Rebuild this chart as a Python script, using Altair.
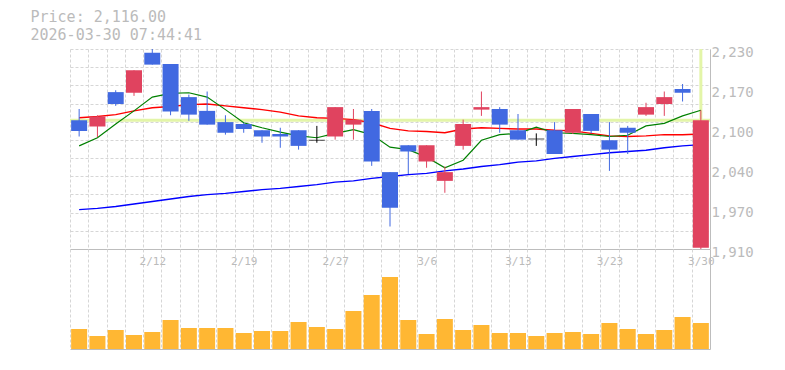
import altair as alt
import pandas as pd
import json

# ---------------- data ----------------
dates = ["2/5", "2/6", "2/9", "2/10", "2/12", "2/13", "2/16", "2/17", "2/18", "2/19",
         "2/20", "2/24", "2/25", "2/26", "2/27", "3/2", "3/3", "3/4", "3/5", "3/6",
         "3/9", "3/10", "3/11", "3/12", "3/13", "3/16", "3/17", "3/18", "3/19", "3/23",
         "3/24", "3/25", "3/26", "3/27", "3/30"]
opens = [2116, 2106, 2161, 2160, 2224, 2206, 2153, 2131, 2113, 2110,
         2100, 2094, 2100, 2084, 2090, 2109, 2131, 2033, 2076, 2050,
         2019, 2075, 2133, 2134, 2100, 2086, 2100, 2096, 2126, 2084,
         2104, 2125, 2142, 2166, 1912]
highs = [2134, 2124, 2164, 2196, 2230, 2206, 2157, 2162, 2124, 2112,
         2100, 2104, 2100, 2107, 2137, 2134, 2134, 2033, 2076, 2076,
         2042, 2117, 2162, 2137, 2126, 2095, 2113, 2134, 2126, 2113,
         2107, 2144, 2162, 2174, 2132]
lows = [2090, 2089, 2139, 2155, 2205, 2124, 2115, 2109, 2093, 2096,
        2080, 2072, 2069, 2080, 2085, 2085, 2043, 1946, 2030, 2040,
        2000, 2069, 2123, 2096, 2085, 2075, 2062, 2094, 2095, 2035,
        2062, 2123, 2123, 2146, 1910]
closes = [2099, 2122, 2142, 2196, 2205, 2130, 2125, 2109, 2096, 2102,
          2090, 2090, 2075, 2084, 2137, 2117, 2050, 1976, 2066, 2076,
          2033, 2110, 2137, 2109, 2085, 2086, 2062, 2134, 2099, 2069,
          2096, 2137, 2153, 2160, 2116]
volumes = [20000, 13000, 19000, 14000, 17000, 29000, 21000, 21000, 21000, 16000,
           18000, 18000, 27000, 22000, 20000, 38000, 54000, 72000, 29000, 15000,
           30000, 19000, 24000, 16000, 16000, 13000, 16000, 17000, 15000, 26000,
           20000, 15000, 19000, 32000, 26000]
ma5 = [2075, 2088, 2110, 2131, 2153, 2159, 2160, 2153, 2133, 2112,
       2104, 2097, 2091, 2088, 2095, 2101, 2093, 2073, 2069, 2057,
       2040, 2052, 2084, 2093, 2095, 2105, 2096, 2095, 2093, 2090,
       2092, 2107, 2111, 2123, 2132]
ma25 = [2120, 2122, 2125, 2131, 2136, 2138, 2141, 2142, 2139, 2136,
        2133, 2129, 2123, 2120, 2119, 2117, 2112, 2103, 2099, 2098,
        2096, 2102, 2104, 2103, 2102, 2102, 2100, 2099, 2095, 2091,
        2090, 2091, 2093, 2093, 2094]
ma75 = [1973, 1975, 1978, 1982, 1986, 1990, 1994, 1997, 1999, 2002,
        2005, 2007, 2010, 2013, 2017, 2019, 2023, 2026, 2029, 2031,
        2035, 2038, 2042, 2045, 2049, 2051, 2055, 2058, 2061, 2064,
        2066, 2068, 2072, 2075, 2077]
label_dates = ["2/12", "2/19", "2/27", "3/6", "3/13", "3/23", "3/30"]
price_ticks = [1910, 1974, 2038, 2102, 2166, 2230]
price_domain = [1910, 2230]
current_price = 2116.00
current_date = "3/30"
timestamp = "2026-03-30 07:44:41"

# ---------------- styles ----------------
RED = "#e0435f"
BLUE = "#4169e1"
ORANGE = "#ffb733"
PLINE = "#e3f5a8"
GRID = "#d6d6d6"
BORDER = "#bdbdbd"
TXT = "#bbbbbb"
MONO = "DejaVu Sans Mono"

df = pd.DataFrame({"date": dates, "open": opens, "high": highs, "low": lows,
                   "close": closes, "volume": volumes,
                   "ma5": ma5, "ma25": ma25, "ma75": ma75})
df["dir"] = ["up" if c > o else ("down" if c < o else "flat") for o, c in zip(opens, closes)]

n_grid = 11
grid_vals = [price_domain[0] + k * (price_domain[1] - price_domain[0]) / n_grid for k in range(n_grid + 1)]

xscale = alt.Scale(type="band", domain=dates, paddingInner=0, paddingOuter=0)
yscale = alt.Scale(domain=price_domain, nice=False, zero=False)
color_scale = alt.Scale(domain=["up", "down", "flat"], range=[RED, BLUE, "#000000"])

x_price = alt.X("date:O", sort=dates, scale=xscale, bandPosition=0.5,
                axis=alt.Axis(grid=True, gridDash=[3, 2], gridColor=GRID, tickBand="extent",
                              labels=False, ticks=False, tickSize=0, domain=True,
                              domainColor=BORDER, title=None))

base = alt.Chart(df)

pl_df = pd.DataFrame({"price": [current_price]})
price_line = alt.Chart(pl_df).mark_rule(color=PLINE, strokeWidth=3).encode(
    y=alt.Y("price:Q", scale=yscale,
            axis=alt.Axis(orient="left", values=grid_vals, grid=True, gridDash=[3, 2],
                          gridColor=GRID, labels=False, ticks=False, tickSize=0,
                          domain=False, title=None)))

vl_df = pd.DataFrame({"date": [current_date], "price": [current_price], "top": [price_domain[1]]})
vline = alt.Chart(vl_df).mark_rule(color=PLINE, strokeWidth=3).encode(
    x=x_price,
    y=alt.Y("price:Q", scale=yscale, axis=None),
    y2="top:Q")

def ma_line(field, color, width):
    return base.mark_line(color=color, strokeWidth=width).encode(
        x=x_price, y=alt.Y(f"{field}:Q", scale=yscale, axis=None))

l75 = ma_line("ma75", "#0000ff", 1.5)
l25 = ma_line("ma25", "#ff0000", 1.5)
l5 = ma_line("ma5", "#008000", 1.2)

wicks = base.mark_rule(strokeWidth=1).encode(
    x=x_price,
    y=alt.Y("low:Q", scale=yscale, axis=None),
    y2="high:Q",
    color=alt.Color("dir:N", scale=color_scale, legend=None))

bodies = base.mark_bar(width=alt.RelativeBandSize(0.875)).encode(
    x=x_price,
    y=alt.Y("open:Q", scale=yscale,
            axis=alt.Axis(orient="right", values=price_ticks,
                          labelExpr="format(round(datum.value/10)*10, ',')",
                          grid=False, ticks=False, tickSize=0, domain=True,
                          domainColor=BORDER, labelPadding=1, labelFont=MONO,
                          labelFontSize=14, labelColor=TXT, labelBaseline="middle",
                          labelOffset=3, labelAlign="left", labelOverlap=False,
                          title=None)),
    y2="close:Q",
    color=alt.Color("dir:N", scale=color_scale, legend=None))

doji = base.transform_filter("datum.dir == 'flat'").mark_tick(
    color="#000000", thickness=1, size=16).encode(
    x=x_price, y=alt.Y("close:Q", scale=yscale, axis=None))

price = alt.layer(price_line, vline, l75, l25, l5, wicks, bodies, doji).resolve_axis(
    y="independent").properties(width=640, height=200)

label_expr = "indexof(" + json.dumps(label_dates) + ", datum.value) >= 0 ? datum.label : ''"
vol = base.mark_bar(width=alt.RelativeBandSize(0.875), color=ORANGE).encode(
    x=alt.X("date:O", sort=dates, scale=xscale,
            axis=alt.Axis(grid=True, gridDash=[3, 2], gridColor=GRID, tickBand="extent",
                          ticks=False, tickSize=0, domain=True, domainColor=BORDER,
                          labelExpr=label_expr, labelPadding=-88, labelBaseline="middle",
                          labelFont=MONO, labelFontSize=11, labelColor=TXT, labelAngle=0,
                          labelOverlap=False, title=None)),
    y=alt.Y("volume:Q", scale=alt.Scale(domain=[0, 100000]),
            axis=alt.Axis(orient="right", labels=False, ticks=False, tickSize=0, grid=False,
                          domain=True, domainColor=BORDER, title=None))
).properties(width=640, height=100)

chart = alt.vconcat(price, vol, spacing=0, bounds="flush").properties(
    title=alt.TitleParams(text=f"Price: {current_price:,.2f}", subtitle=timestamp,
                          anchor="start", dx=-38, font=MONO, fontSize=15,
                          fontWeight="normal", color=TXT, subtitleFont=MONO,
                          subtitleFontSize=15, subtitleColor=TXT, subtitlePadding=3,
                          offset=2),
    padding={"left": 22, "top": 2, "right": 5, "bottom": 5}
).configure_view(stroke=None)

chart.save("out.html", embed_options={"renderer": "svg", "actions": False})
